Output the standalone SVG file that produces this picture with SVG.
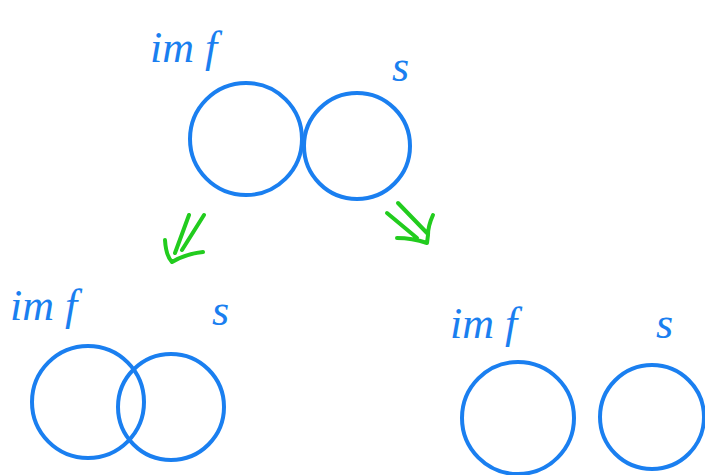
<svg xmlns="http://www.w3.org/2000/svg" width="705" height="475" viewBox="0 0 705 475">
<style>
.c{fill:none;stroke:#1a7ff0;stroke-width:4}
.t{fill:#1a7ff0;font-family:"Liberation Serif",serif;font-style:italic;font-size:44px}
.a{fill:none;stroke:#22cc1e;stroke-width:4;stroke-linecap:round;stroke-linejoin:round}
</style>
<rect width="705" height="475" fill="#fff"/>
<g id="labels">
<text class="t" x="150" y="62">im f</text>
<text class="t" x="392" y="81">s</text>
<text class="t" x="10" y="320">im f</text>
<text class="t" x="212" y="325">s</text>
<text class="t" x="450" y="338">im f</text>
<text class="t" x="656" y="338">s</text>
</g>
<g id="top-inf"><circle class="c" cx="246" cy="139" r="56"/></g>
<g id="top-s"><circle class="c" cx="357" cy="146" r="53"/></g>
<g id="left-inf"><circle class="c" cx="88" cy="402" r="56"/></g>
<g id="left-s"><circle class="c" cx="171" cy="407" r="53"/></g>
<g id="right-inf"><circle class="c" cx="518" cy="418" r="56"/></g>
<g id="right-s"><circle class="c" cx="652" cy="417" r="52"/></g>
<g id="connectors">
<path class="a" d="M189 215 L175 253 M204 215 L182 250 M165 240 Q166 256 172 262 Q185 254 203 252"/>
<path class="a" d="M387 213 L417 238 M398 203 L427 233 M433 215 Q428 226 428 235 L427 243 Q412 238 397 238"/>
</g>
</svg>
